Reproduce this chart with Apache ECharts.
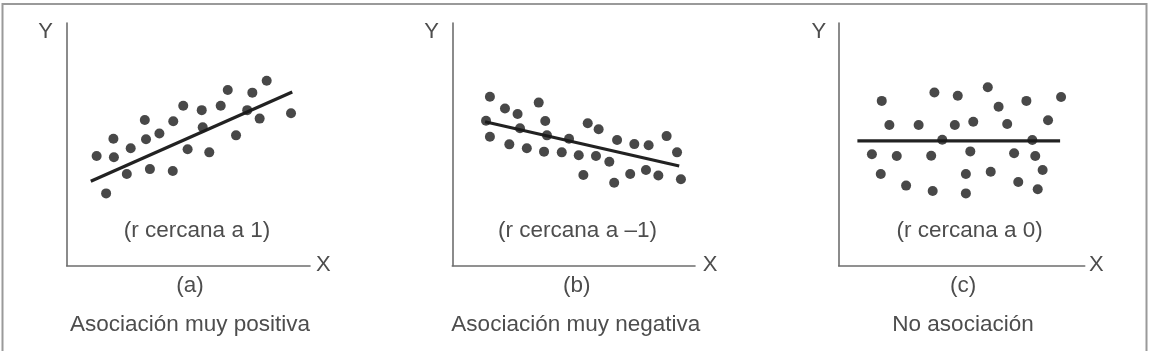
<!DOCTYPE html>
<html>
<head>
<meta charset="utf-8">
<script src="https://cdn.jsdelivr.net/npm/echarts@6/dist/echarts.min.js"></script>
<style>
  html, body { margin: 0; padding: 0; background: #ffffff; }
  #chart { width: 1158px; height: 351px; }
</style>
</head>
<body>
<div id="chart"></div>
<script>
// Panel (a): asociación muy positiva
const aX = [12.3, 16.2, 19.2, 19.4, 24.7, 26.3, 32.1, 32.6, 34.2, 38.1, 43.6, 43.8, 47.9, 49.7, 55.5, 55.9, 58.6, 63.3, 66.2, 69.6, 74.2, 76.3, 79.3, 82.2, 92.2];
const aY = [45.2, 29.8, 52.3, 44.7, 37.8, 48.4, 60.0, 52.1, 39.8, 54.5, 39.0, 59.5, 65.9, 48.0, 64.1, 57.0, 46.7, 65.9, 72.4, 53.7, 64.1, 71.3, 60.6, 76.2, 62.8];
const aLineX = [9.9, 92.7];
const aLineY = [34.8, 71.6];

// Panel (b): asociación muy negativa
const bX = [15.5, 13.9, 15.5, 21.7, 26.9, 27.9, 23.5, 30.7, 35.6, 38.3, 39.0, 37.8, 45.1, 48.1, 52.1, 54.0, 55.8, 60.3, 59.2, 64.7, 66.7, 67.9, 73.3, 75.0, 79.8, 80.9, 84.9, 88.3, 92.6, 94.2];
const bY = [69.6, 59.7, 53.1, 64.8, 62.5, 56.6, 50.0, 48.4, 67.2, 59.6, 53.7, 47.0, 46.7, 52.3, 45.5, 37.4, 58.7, 56.2, 45.2, 42.8, 34.2, 51.8, 37.8, 50.1, 39.4, 49.6, 37.2, 53.4, 46.7, 35.6];
const bLineX = [13.5, 93.5];
const bLineY = [59.3, 41.1];

// Panel (c): no asociación
const cX = [17.5, 20.6, 13.5, 17.1, 23.6, 27.4, 32.5, 37.6, 38.2, 38.9, 42.1, 47.2, 48.4, 51.7, 51.7, 53.5, 54.7, 60.6, 61.8, 65.0, 68.5, 71.3, 73.0, 76.3, 78.7, 79.9, 80.9, 82.9, 85.1, 90.4];
const cY = [67.9, 58.0, 45.9, 37.8, 45.2, 33.0, 58.0, 45.3, 30.8, 71.4, 51.9, 58.0, 70.0, 37.8, 29.8, 47.1, 59.3, 73.5, 38.7, 65.5, 58.4, 46.3, 34.5, 67.9, 51.8, 45.2, 31.5, 39.4, 59.9, 69.5];
const cLineX = [7.6, 90.0];
const cLineY = [51.4, 51.4];

// Texts
const rLabels = ['(r cercana a 1)', '(r cercana a \u20131)', '(r cercana a 0)'];
const panelLetters = ['(a)', '(b)', '(c)'];
const captions = ['Asociación muy positiva', 'Asociación muy negativa', 'No asociación'];
const axisNameX = 'X';
const axisNameY = 'Y';

const chart = echarts.init(document.getElementById('chart'), null, { renderer: 'canvas' });

const zip = (xs, ys) => xs.map((x, i) => [x, ys[i]]);

const gridDefs = [
  { left: 66.7, top: 23, width: 243.3, height: 242.7 },
  { left: 452.3, top: 23, width: 242.7, height: 242.7 },
  { left: 838.7, top: 23, width: 246, height: 242.7 }
];

const axisLineStyle = { color: '#6e6e6e', width: 1.6 };
const mkAxis = (i) => ({
  type: 'value', gridIndex: i, min: 0, max: 100,
  axisLine: { show: true, onZero: false, lineStyle: axisLineStyle },
  axisTick: { show: false }, axisLabel: { show: false }, splitLine: { show: false }
});

const pts = [zip(aX, aY), zip(bX, bY), zip(cX, cY)];
const lines = [zip(aLineX, aLineY), zip(bLineX, bLineY), zip(cLineX, cLineY)];

const series = [];
for (let i = 0; i < 3; i++) {
  series.push({
    type: 'line', xAxisIndex: i, yAxisIndex: i, data: lines[i],
    showSymbol: false, symbol: 'none', silent: true,
    lineStyle: { color: '#222', width: 3.2 }, z: 2
  });
  series.push({
    type: 'scatter', xAxisIndex: i, yAxisIndex: i, data: pts[i],
    symbol: 'circle', symbolSize: 10, itemStyle: { color: '#1a1a1a' }, z: 3
  });
}

const font = 'Liberation Sans, Arial, sans-serif';
const txt = (x, y, s, size) => ({
  type: 'text', x: x, y: y, silent: true,
  style: { text: s, fill: '#4d4d4d', font: (size || 22.5) + 'px ' + font, textAlign: 'center', textVerticalAlign: 'middle', align: 'center', verticalAlign: 'middle' }
});

const rCenters = [197, 577.5, 969.7];
const letterCenters = [190, 576.7, 963];
const captionCenters = [190, 575.8, 963];
const yNamePos = [45.5, 431.7, 818.8];
const xNamePos = [323.3, 710, 1096.3];

const graphics = [
  { type: 'rect', shape: { x: 2.5, y: 4, width: 1144, height: 360 }, style: { fill: 'none', stroke: '#9a9a9a', lineWidth: 2 }, silent: true, z: 0 }
];
for (let i = 0; i < 3; i++) {
  graphics.push(txt(rCenters[i], 231, rLabels[i]));
  graphics.push(txt(letterCenters[i], 286, panelLetters[i]));
  graphics.push(txt(captionCenters[i], 325, captions[i]));
  graphics.push(txt(yNamePos[i], 32, axisNameY, 22));
  graphics.push(txt(xNamePos[i], 265, axisNameX, 22));
}

chart.setOption({
  backgroundColor: '#ffffff',
  animation: false,
  grid: gridDefs,
  xAxis: [0, 1, 2].map(mkAxis),
  yAxis: [0, 1, 2].map(mkAxis),
  series: series,
  graphic: graphics
});
</script>
</body>
</html>
